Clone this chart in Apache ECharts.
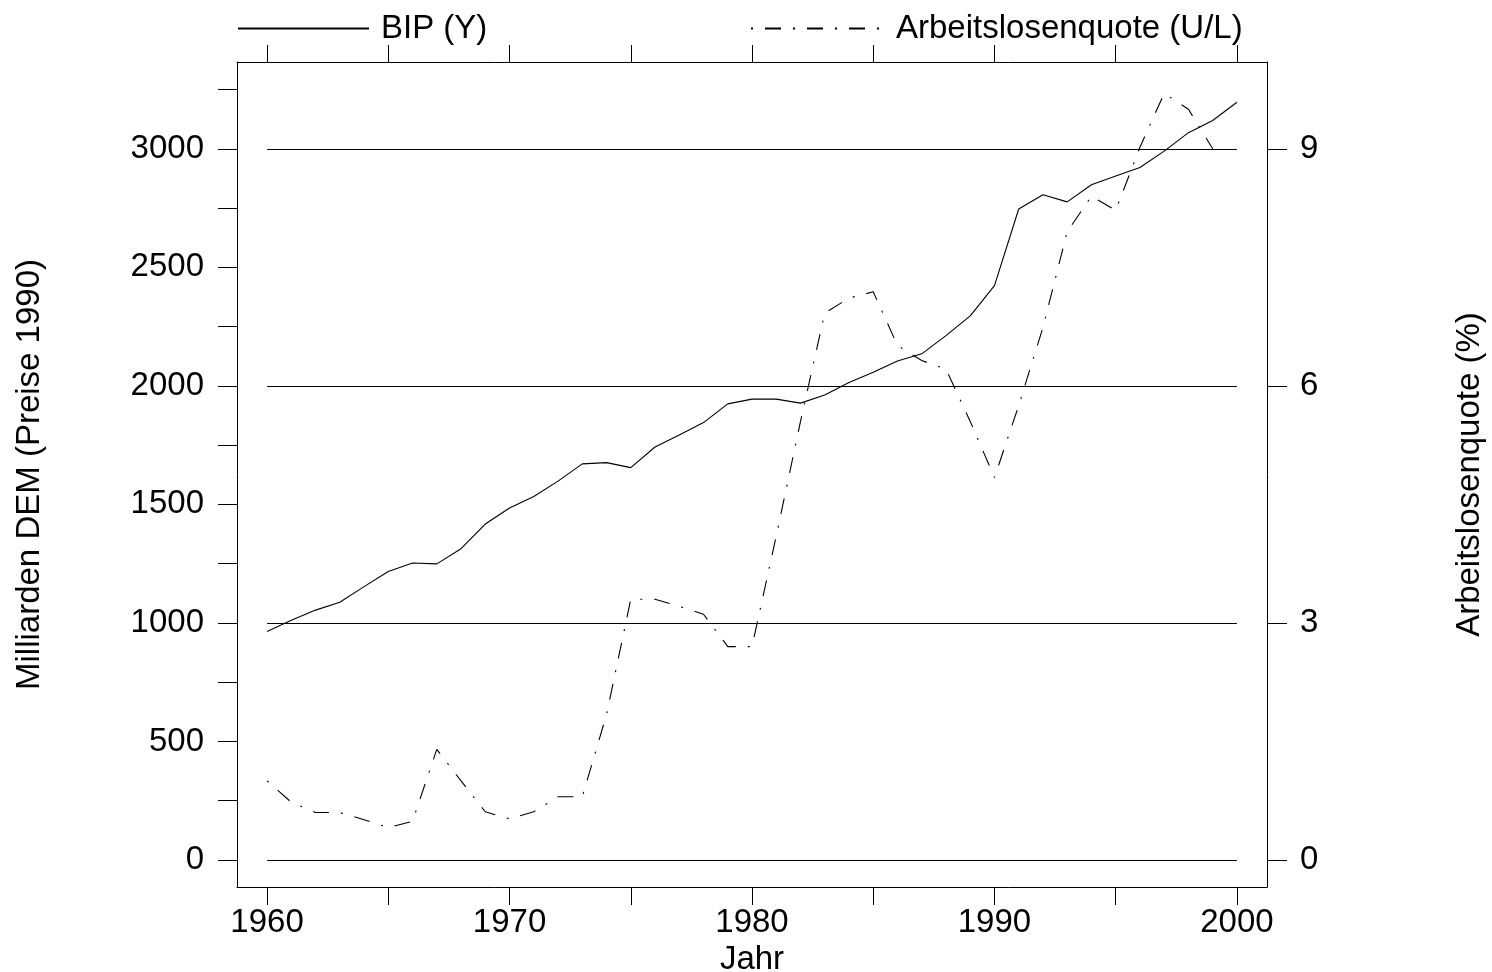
<!DOCTYPE html>
<html>
<head>
<meta charset="utf-8">
<script src="https://cdn.jsdelivr.net/npm/echarts@6/dist/echarts.min.js"></script>
<style>
  html, body { margin: 0; padding: 0; background: #fff; }
  #chart { width: 1492px; height: 972px; }
</style>
</head>
<body>
<div id="chart"></div>
<script>
const years = [1960, 1961, 1962, 1963, 1964, 1965, 1966, 1967, 1968, 1969,
               1970, 1971, 1972, 1973, 1974, 1975, 1976, 1977, 1978, 1979,
               1980, 1981, 1982, 1983, 1984, 1985, 1986, 1987, 1988, 1989,
               1990, 1991, 1992, 1993, 1994, 1995, 1996, 1997, 1998, 1999, 2000];
const bip = [964, 1011, 1054, 1087, 1153, 1217, 1253, 1249, 1313, 1417,
             1485, 1533, 1598, 1671, 1676, 1655, 1742, 1793, 1845, 1924,
             1944, 1944, 1927, 1961, 2014, 2057, 2105, 2135, 2212, 2295,
             2423, 2746, 2806, 2776, 2848, 2885, 2921, 2990, 3068, 3119, 3196];
const arbeitslosenquote = [1.0, 0.73, 0.60, 0.60, 0.51, 0.41, 0.49, 1.40, 1.0, 0.61,
                           0.52, 0.61, 0.80, 0.80, 1.84, 3.30, 3.30, 3.21, 3.11, 2.70,
                           2.70, 4.10, 5.55, 6.92, 7.11, 7.19, 6.51, 6.32, 6.21, 5.55,
                           4.84, 5.75, 6.74, 7.95, 8.40, 8.22, 9.02, 9.70, 9.50, 9.00, null];
const xTicks = [1960, 1965, 1970, 1975, 1980, 1985, 1990, 1995, 2000];
const xLabels = [1960, 1970, 1980, 1990, 2000];
const leftTicks = [0, 250, 500, 750, 1000, 1250, 1500, 1750, 2000, 2250, 2500, 2750, 3000, 3250];
const leftLabels = [0, 500, 1000, 1500, 2000, 2500, 3000];
const rightTicks = [0, 3, 6, 9];
const gridValues = [0, 1000, 2000, 3000];

const FONT = 'Liberation Sans, Arial, Helvetica, sans-serif';
const FS = 33;
const chart = echarts.init(document.getElementById('chart'));

const bipData = years.map((y, i) => [y, bip[i]]);
const ulData = years.map((y, i) => [y, arbeitslosenquote[i]]);
const gridLines = gridValues.map(v => [{ coord: [years[0], v] }, { coord: [years[years.length - 1], v] }]);
const plain = v => String(v);

const axisBase = {
  type: 'value',
  axisLine: { show: true, onZero: false, lineStyle: { color: '#000', width: 1 } },
  splitLine: { show: false },
  axisLabel: { color: '#000', fontSize: FS, fontFamily: FONT, formatter: plain },
  axisTick: { show: true, inside: false, length: 18, lineStyle: { color: '#000', width: 1 } }
};

const legendText = { fontSize: FS, fontFamily: FONT, color: '#000' };

chart.setOption({
  animation: false,
  backgroundColor: '#fff',
  grid: { left: 237, right: 225, top: 62, bottom: 85, containLabel: false, outerBoundsMode: 'none' },
  legend: [
    {
      data: ['BIP (Y)'], left: 232, top: 7, itemWidth: 131, itemHeight: 34, itemGap: 0,
      itemStyle: { opacity: 0 },
      textStyle: Object.assign({ padding: [0, 0, 0, 7] }, legendText),
      selectedMode: false
    },
    {
      data: ['Arbeitslosenquote (U/L)'], left: 745, top: 7, itemWidth: 135, itemHeight: 34, itemGap: 0,
      itemStyle: { opacity: 0 },
      textStyle: Object.assign({ padding: [0, 0, 0, 5] }, legendText),
      selectedMode: false
    }
  ],
  xAxis: [
    Object.assign({}, axisBase, {
      position: 'bottom', min: 1958.76, max: 2001.24,
      name: 'Jahr', nameLocation: 'middle', nameGap: 49,
      nameTextStyle: { fontSize: FS, fontFamily: FONT, color: '#000' },
      axisTick: Object.assign({}, axisBase.axisTick, { customValues: xTicks }),
      axisLabel: Object.assign({}, axisBase.axisLabel, { customValues: xLabels, margin: 19 })
    }),
    Object.assign({}, axisBase, {
      position: 'top', min: 1958.76, max: 2001.24,
      axisTick: Object.assign({}, axisBase.axisTick, { customValues: xTicks, length: 17 }),
      axisLabel: { show: false }
    })
  ],
  yAxis: [
    Object.assign({}, axisBase, {
      position: 'left', min: -114, max: 3366,
      name: 'Milliarden DEM (Preise 1990)', nameLocation: 'middle', nameGap: 191, nameRotate: 90,
      nameTextStyle: { fontSize: FS, fontFamily: FONT, color: '#000' },
      axisTick: Object.assign({}, axisBase.axisTick, { customValues: leftTicks, length: 19 }),
      axisLabel: Object.assign({}, axisBase.axisLabel, { customValues: leftLabels, margin: 33 })
    }),
    Object.assign({}, axisBase, {
      position: 'right', min: -0.342, max: 10.098,
      name: 'Arbeitslosenquote (%)', nameLocation: 'middle', nameGap: 186, nameRotate: 90,
      nameTextStyle: { fontSize: FS, fontFamily: FONT, color: '#000' },
      axisTick: Object.assign({}, axisBase.axisTick, { customValues: rightTicks, length: 20 }),
      axisLabel: Object.assign({}, axisBase.axisLabel, { customValues: rightTicks, margin: 33 })
    })
  ],
  series: [
    {
      name: 'BIP (Y)', type: 'line', xAxisIndex: 0, yAxisIndex: 0,
      data: bipData, symbol: 'none', showSymbol: false,
      lineStyle: { color: '#000', width: 1.1, type: 'solid' },
      itemStyle: { color: '#000' },
      markLine: {
        silent: true, symbol: 'none', label: { show: false },
        lineStyle: { color: '#000', width: 1, type: 'solid' },
        data: gridLines
      },
      z: 3
    },
    {
      name: 'Arbeitslosenquote (U/L)', type: 'line', xAxisIndex: 0, yAxisIndex: 1,
      data: ulData, symbol: 'none', showSymbol: false, connectNulls: false,
      lineStyle: { color: '#000', width: 1.1, type: [2, 12, 16, 12] },
      itemStyle: { color: '#000' },
      z: 3
    }
  ]
});
</script>
</body>
</html>
